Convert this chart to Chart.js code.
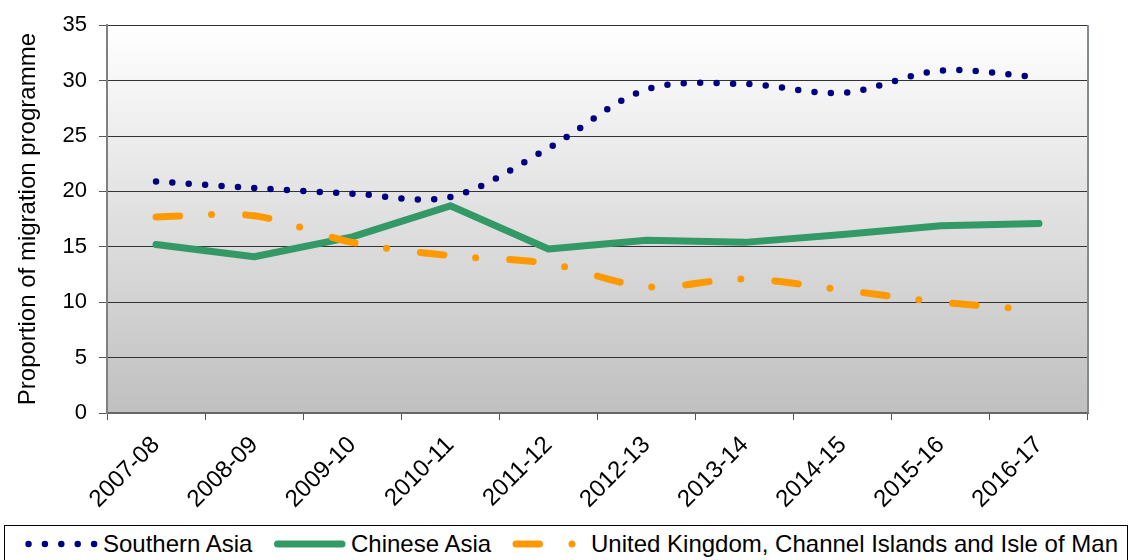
<!DOCTYPE html>
<html>
<head>
<meta charset="utf-8">
<script src="https://cdn.jsdelivr.net/npm/chart.js@4"></script>
<style>
html,body{margin:0;padding:0;background:#fff;}
#wrap{position:relative;width:1130px;height:560px;overflow:hidden;}
#chartBox{position:absolute;left:0;top:0;width:1130px;height:522px;}
#legend{position:absolute;left:4px;top:525px;width:1124px;height:60px;border:1px solid #000;box-sizing:border-box;font-family:'Liberation Sans',Arial,sans-serif;font-size:24px;color:#000;background:#fff;}
.item{position:absolute;top:0;height:36px;display:flex;align-items:center;white-space:nowrap;}
.sw{position:absolute;top:0;height:36px;}
</style>
</head>
<body>
<div id="wrap">
  <div id="chartBox"><canvas id="c" width="1130" height="522"></canvas></div>
  <div id="legend">
    <svg class="sw" style="left:15px" width="90" height="36"><line x1="8.5" y1="18" x2="75" y2="18" stroke="#000080" stroke-width="6.5" stroke-linecap="round" stroke-dasharray="0 16.4"/></svg>
    <span class="item" style="left:98px">Southern Asia</span>
    <svg class="sw" style="left:265px" width="90" height="36"><line x1="7.5" y1="18" x2="72" y2="18" stroke="#339966" stroke-width="7" stroke-linecap="round"/></svg>
    <span class="item" style="left:346px">Chinese Asia</span>
    <svg class="sw" style="left:500px" width="90" height="36"><line x1="11" y1="18" x2="67.5" y2="18" stroke="#ff9900" stroke-width="7" stroke-linecap="round" stroke-dasharray="23.5 32.5 0 100"/></svg>
    <span class="item" style="left:586px">United Kingdom, Channel Islands and Isle of Man</span>
  </div>
</div>
<script>
const categories = ['2007-08','2008-09','2009-10','2010-11','2011-12','2012-13','2013-14','2014-15','2015-16','2016-17'];
const southernAsia = [20.9, 20.3, 19.8, 19.5, 23.9, 29.2, 29.7, 28.9, 30.9, 30.3];
const chineseAsia = [15.2, 14.1, 15.9, 18.7, 14.8, 15.6, 15.4, 16.1, 16.9, 17.1];
const ukChannelIslandsIsleOfMan = [17.7, 17.8, 15.4, 14.2, 13.5, 11.4, 12.1, 11.1, 10.0, 9.3];
const seriesNames = ['Southern Asia','Chinese Asia','United Kingdom, Channel Islands and Isle of Man'];
const yMin = 0, yMax = 35, yStep = 5;
const yTitle = 'Proportion of migration programme';

Chart.defaults.font.family = "'Liberation Sans', Arial, sans-serif";
Chart.defaults.font.size = 22;
Chart.defaults.color = '#000';

const plotBg = {
  id: 'plotBg',
  beforeDraw(chart) {
    const {ctx, chartArea: a} = chart;
    const g = ctx.createLinearGradient(0, a.top, 0, a.bottom);
    g.addColorStop(0, '#ffffff');
    g.addColorStop(1, '#c0c0c0');
    ctx.save();
    ctx.fillStyle = g;
    ctx.fillRect(a.left, a.top, a.right - a.left, a.bottom - a.top);
    ctx.restore();
  },
  beforeDatasetsDraw(chart) {
    const {ctx, chartArea: a} = chart;
    ctx.save();
    ctx.strokeStyle = '#868b91';
    ctx.lineWidth = 2;
    ctx.beginPath();
    ctx.moveTo(a.right, a.top);
    ctx.lineTo(a.right, a.bottom);
    ctx.stroke();
    ctx.restore();
  }
};

new Chart(document.getElementById('c'), {
  type: 'line',
  data: {
    labels: categories,
    datasets: [
      {
        label: seriesNames[0], data: southernAsia,
        borderColor: '#000080', borderWidth: 6.5, borderDash: [0, 16.4],
        borderCapStyle: 'round', tension: 0.33, pointRadius: 0, fill: false, order: 2
      },
      {
        label: seriesNames[1], data: chineseAsia,
        borderColor: '#339966', borderWidth: 7, borderCapStyle: 'round', borderJoinStyle: 'round',
        tension: 0, pointRadius: 0, fill: false, order: 1
      },
      {
        label: seriesNames[2], data: ukChannelIslandsIsleOfMan,
        borderColor: '#ff9900', borderWidth: 7, borderDash: [23.6, 31.9, 0, 34.1],
        borderCapStyle: 'round', tension: 0.33, pointRadius: 0, fill: false, order: 0
      }
    ]
  },
  options: {
    responsive: false,
    animation: false,
    devicePixelRatio: 1,
    layout: { padding: { left: 0, right: 42, top: 19, bottom: 0 } },
    plugins: { legend: { display: false }, tooltip: { enabled: false } },
    scales: {
      x: {
        type: 'category', offset: true,
        grid: { offset: true, drawOnChartArea: false, drawTicks: true, tickLength: 7, color: '#555', lineWidth: 1 },
        border: { display: true, color: '#666', width: 2 },
        ticks: { maxRotation: 45, minRotation: 45, autoSkip: false, padding: 11, color: '#000', font: { size: 24 } },
        afterFit(s) { s.height = 522 - 413; }
      },
      y: {
        min: yMin, max: yMax,
        ticks: { stepSize: yStep, padding: 12, color: '#000', font: { size: 22 } },
        grid: { color: '#333', lineWidth: 1, tickLength: 8, drawTicks: true, tickColor: '#555' },
        border: { color: '#808080', width: 2 },
        title: { display: true, text: yTitle, color: '#000', font: { size: 24 }, padding: { top: 14, bottom: 0 } },
        afterFit(s) { s.width = 107; }
      }
    }
  },
  plugins: [plotBg]
});
</script>
</body>
</html>
